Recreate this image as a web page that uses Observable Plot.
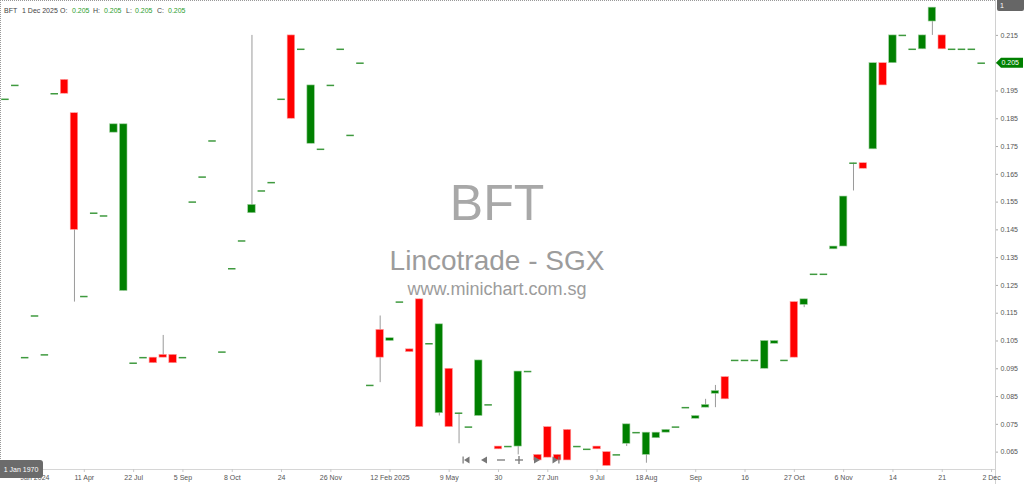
<!DOCTYPE html>
<html><head><meta charset="utf-8">
<script src="https://cdn.jsdelivr.net/npm/d3@7"></script>
<script src="https://cdn.jsdelivr.net/npm/@observablehq/plot@0.6"></script>
<style>
html,body{margin:0;padding:0;background:#fff;}
#wrap{position:relative;width:1024px;height:484px;overflow:hidden;}
</style></head>
<body><div id="wrap"></div>
<script>
const symbol = "BFT";
const lastDate = "1 Dec 2025";
const opens = [.192,.197,.099,.114,.100,.194,.199,.187,.121,.151,
 .150,.180,.123,.097,.099,.099,.100,.100,.099,.155,
 .164,.177,.101,.131,.141,.151,.159,.162,.192,.215,
 .210,.176,.174,.197,.210,.179,.205,.089,.109,.105,
 .119,.102,.120,.104,.079,.095,.079,.074,.078,.082,
 .067,.067,.067,.094,.064,.074,.064,.073,.067,.066,
 .067,.065,.064,.068,.072,.064,.070,.072,.074,.081,
 .077,.081,.086,.092,.098,.098,.098,.095,.104,.098,
 .119,.118,.129,.129,.138,.139,.169,.169,.174,.205,
 .205,.215,.210,.210,.220,.215,.210,.210,.210,.205];
const highs = [.192,.197,.099,.114,.100,.194,.199,.187,.121,.151,
 .150,.183,.183,.097,.099,.099,.107,.100,.099,.155,
 .164,.177,.101,.131,.141,.215,.159,.162,.192,.215,
 .210,.197,.174,.197,.210,.179,.205,.089,.114,.106,
 .119,.102,.120,.104,.111,.095,.079,.074,.098,.082,
 .067,.067,.094,.094,.064,.074,.064,.073,.067,.066,
 .067,.065,.064,.075,.072,.072,.072,.073,.074,.081,
 .078,.084,.089,.092,.098,.098,.098,.105,.105,.098,
 .119,.120,.129,.129,.139,.157,.169,.169,.205,.205,
 .215,.215,.210,.215,.225,.215,.210,.210,.210,.205];
const lows = [.192,.197,.099,.114,.100,.194,.194,.119,.121,.151,
 .150,.180,.123,.097,.099,.097,.099,.097,.099,.155,
 .164,.177,.101,.131,.141,.151,.159,.162,.192,.185,
 .210,.176,.174,.197,.210,.179,.205,.089,.090,.105,
 .119,.101,.074,.104,.078,.074,.068,.074,.078,.082,
 .066,.067,.064,.094,.062,.063,.062,.062,.067,.066,
 .066,.060,.064,.067,.072,.061,.070,.072,.074,.081,
 .077,.081,.081,.084,.098,.098,.098,.095,.104,.098,
 .099,.117,.129,.129,.138,.139,.159,.167,.174,.197,
 .205,.215,.210,.210,.215,.210,.210,.210,.210,.205];
const closes = [.192,.197,.099,.114,.100,.194,.194,.145,.121,.151,
 .150,.183,.183,.097,.099,.097,.099,.097,.099,.155,
 .164,.177,.101,.131,.141,.154,.159,.162,.192,.185,
 .210,.197,.174,.197,.210,.179,.205,.089,.099,.106,
 .119,.101,.074,.104,.111,.074,.079,.074,.098,.082,
 .066,.067,.094,.094,.062,.063,.062,.062,.067,.066,
 .066,.060,.064,.075,.072,.072,.072,.073,.074,.081,
 .078,.082,.087,.084,.098,.098,.098,.105,.105,.098,
 .099,.120,.129,.129,.139,.157,.169,.167,.205,.197,
 .215,.215,.210,.215,.225,.210,.210,.210,.210,.205];
const xTickIdx = [3,8,13,18,23,28,33,39,45,50,55,60,65,70,75,80,85,90,95,100];
const xTickLabels = ["Jan 2024","11 Apr","22 Jul","5 Sep","8 Oct","24","26 Nov","12 Feb 2025","9 May","30","27 Jun","9 Jul","18 Aug","Sep","16","27 Oct","6 Nov","14","21","2 Dec"];
const yTicks = [0.065,0.075,0.085,0.095,0.105,0.115,0.125,0.135,0.145,0.155,0.165,0.175,0.185,0.195,0.205,0.215];
const watermark = ["BFT","Lincotrade - SGX","www.minichart.com.sg"];

const idx = d3.range(closes.length);
const labelOf = new Map(xTickIdx.map((d,i)=>[d,xTickLabels[i]]));
const up = idx.filter(i=>closes[i]>opens[i]);
const down = idx.filter(i=>closes[i]<opens[i]);
const flat = idx.filter(i=>closes[i]===opens[i]);
const hw = 0.38;
const font = "'Liberation Sans', Arial, sans-serif";

const chart = Plot.plot({
  width:1024, height:484,
  marginLeft:0, marginRight:29, marginTop:0, marginBottom:15,
  style:{background:"transparent", color:"#555", fontSize:"7px", fontFamily:font},
  x:{domain:[-0.5,100.4], axis:null},
  y:{domain:[0.05874,0.22757], axis:null},
  marks:[
    Plot.ruleY([0.05874],{stroke:"#d6d6d6"}),
    Plot.ruleX([100.4],{stroke:"#d0d0d0", y1:0.05874-0.006, y2:0.22757}),
    Plot.axisX({ticks:xTickIdx, tickFormat:d=>labelOf.get(d), tickSize:3, tickPadding:3, stroke:"#c8c8c8", fill:"#555"}),
    Plot.axisY({anchor:"right", ticks:yTicks, tickFormat:d3.format(".3f"), tickSize:2, tickPadding:3, stroke:"#aaa", fill:"#555"}),
    Plot.ruleX(idx.filter(i=>highs[i]>lows[i]),{x:i=>i, y1:i=>lows[i], y2:i=>highs[i], stroke:"#9a9a9a", strokeWidth:1}),
    Plot.rect(up,{x1:i=>i-hw, x2:i=>i+hw, y1:i=>opens[i], y2:i=>closes[i], fill:"#008000", stroke:"#9fcf9f", strokeWidth:0.6}),
    Plot.rect(down,{x1:i=>i-hw, x2:i=>i+hw, y1:i=>opens[i], y2:i=>closes[i], fill:"#ff0000", stroke:"#ffa0a0", strokeWidth:0.6}),
    Plot.ruleY(flat,{y:i=>closes[i], x1:i=>i-hw, x2:i=>i+hw, stroke:"#3f9a3f", strokeWidth:1.5})
  ]
});
const wrap = document.getElementById("wrap");
wrap.appendChild(chart);

const svg = d3.select(chart);
const ys = chart.scale("y");
// watermark (behind)
const wm = svg.insert("g",":first-child").attr("text-anchor","middle").attr("font-family",font);
wm.append("text").attr("x",497).attr("y",220).attr("font-size",50).attr("fill","#a8a8a8").text(watermark[0]);
wm.append("text").attr("x",497).attr("y",270).attr("font-size",28).attr("fill","#9c9c9c").text(watermark[1]);
wm.append("text").attr("x",497).attr("y",295).attr("font-size",18).attr("fill","#9c9c9c").text(watermark[2]);

// dotted borders
svg.append("line").attr("x1",0).attr("x2",996).attr("y1",0.5).attr("y2",0.5).attr("stroke","#999").attr("stroke-dasharray","1,1");
svg.append("line").attr("x1",0.5).attr("x2",0.5).attr("y1",0).attr("y2",469).attr("stroke","#999").attr("stroke-dasharray","1,1");

// header
const last = closes.length-1;
const fmt = d3.format(".3f");
const hdr = svg.append("g").attr("font-family",font).attr("font-size",7).attr("text-anchor","start");
const parts = [[4,symbol,"#444"],[22,lastDate,"#444"],[60,"O:","#444"],[72,fmt(opens[last]),"#2e9e2e"],[93,"H:","#444"],[104,fmt(highs[last]),"#2e9e2e"],[126,"L:","#444"],[135,fmt(lows[last]),"#2e9e2e"],[157,"C:","#444"],[168,fmt(closes[last]),"#2e9e2e"]];
parts.forEach(([x,t,c])=>hdr.append("text").attr("x",x).attr("y",12.5).attr("fill",c).text(t));

// price marker
const py = ys.apply(closes[last]);
svg.append("path").attr("d",`M996,${py}L1001,${py-5}L1023,${py-5}L1023,${py+5}L1001,${py+5}Z`).attr("fill","#008000");
svg.append("text").attr("x",1001.5).attr("y",py+2.5).attr("text-anchor","start").attr("font-family",font).attr("font-size",7).attr("fill","#fff").text(fmt(closes[last]));

// top-right badge
svg.append("rect").attr("x",997).attr("y",-2).attr("width",27).attr("height",13).attr("rx",2).attr("fill","#666");
svg.append("text").attr("x",1000).attr("y",8).attr("text-anchor","start").attr("font-family",font).attr("font-size",7).attr("fill","#fff").text("1");

// bottom-left badge
svg.append("rect").attr("x",-2).attr("y",460).attr("width",45).attr("height",18).attr("rx",3).attr("fill","#6b6b6b");
svg.append("text").attr("x",21).attr("y",471.5).attr("text-anchor","middle").attr("font-family",font).attr("font-size",7).attr("fill","#fff").text("1 Jan 1970");

// navigation icons
const nav = svg.append("g").attr("fill","#777").attr("stroke","#777");
const cy = 460;
nav.append("rect").attr("x",462.5).attr("y",cy-3.5).attr("width",1.2).attr("height",7).attr("stroke","none");
nav.append("path").attr("d",`M464,${cy}L469.5,${cy-3.5}L469.5,${cy+3.5}Z`).attr("stroke","none");
nav.append("path").attr("d",`M481,${cy}L487,${cy-3.5}L487,${cy+3.5}Z`).attr("stroke","none");
nav.append("line").attr("x1",497).attr("x2",505).attr("y1",cy).attr("y2",cy).attr("stroke-width",1.3);
nav.append("line").attr("x1",515).attr("x2",523).attr("y1",cy).attr("y2",cy).attr("stroke-width",1.3);
nav.append("line").attr("x1",519).attr("x2",519).attr("y1",cy-4).attr("y2",cy+4).attr("stroke-width",1.3);
nav.append("path").attr("d",`M540,${cy}L534,${cy-3.5}L534,${cy+3.5}Z`).attr("stroke","none");
nav.append("path").attr("d",`M558,${cy}L552.5,${cy-3.5}L552.5,${cy+3.5}Z`).attr("stroke","none");
nav.append("rect").attr("x",558.3).attr("y",cy-3.5).attr("width",1.2).attr("height",7).attr("stroke","none");
</script>
</body></html>
